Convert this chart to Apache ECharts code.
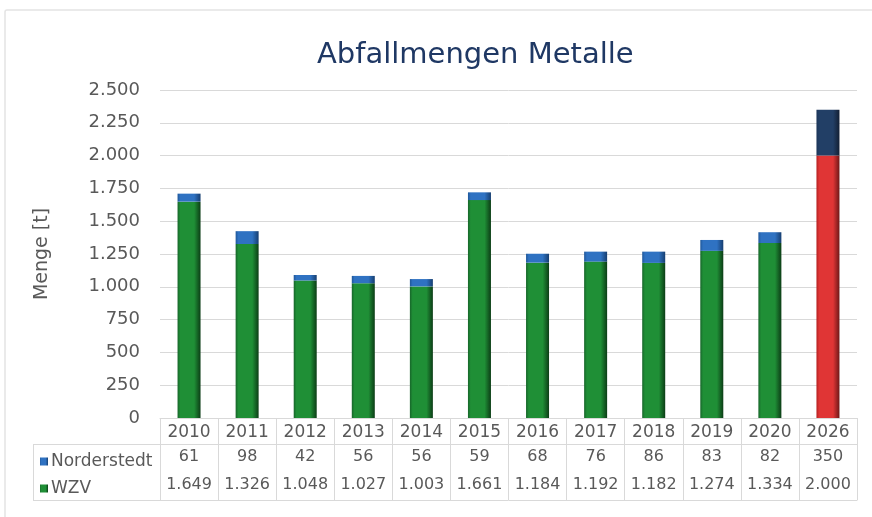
<!DOCTYPE html>
<html>
<head>
<meta charset="utf-8">
<script src="https://cdn.jsdelivr.net/npm/echarts@6/dist/echarts.min.js"></script>
<style>
html,body{margin:0;padding:0;background:#fff;}
#chart{width:872px;height:517px;}
</style>
</head>
<body>
<div id="chart"></div>
<script>
var years = ['2010','2011','2012','2013','2014','2015','2016','2017','2018','2019','2020','2026'];
var norderstedt = [61, 98, 42, 56, 56, 59, 68, 76, 86, 83, 82, 350];
var wzv = [1649, 1326, 1048, 1027, 1003, 1661, 1184, 1192, 1182, 1274, 1334, 2000];
var yTicks = [0, 250, 500, 750, 1000, 1250, 1500, 1750, 2000, 2250, 2500];

function de(v) {
  var s = String(Math.round(v));
  return s.replace(/\B(?=(\d{3})+(?!\d))/g, '.');
}
function cyl(edgeL, mid, edgeR) {
  return new echarts.graphic.LinearGradient(0, 0, 1, 0, [
    {offset: 0, color: edgeL},
    {offset: 0.12, color: mid},
    {offset: 0.72, color: mid},
    {offset: 1, color: edgeR}
  ]);
}
var green = cyl('#17652a', '#1f8f36', '#0c3d16');
var blue = cyl('#1f5799', '#2f72c2', '#163e70');
var red = cyl('#b42020', '#e03535', '#6e1818');
var navy = cyl('#1c3558', '#223f66', '#131f33');
var last = years.length - 1;

var wzvData = wzv.map(function (v, i) {
  return i === last ? {value: v, itemStyle: {color: red}} : v;
});
var nData = norderstedt.map(function (v, i) {
  return i === last ? {value: v, itemStyle: {color: navy}} : v;
});

var gridLeft = 160, gridRight = 15, gridTop = 90, gridBottom = 99;
var txt = '#595959';
var lineC = '#d9d9d9';
var font = 'DejaVu Sans';

var chart = echarts.init(document.getElementById('chart'));
chart.setOption({
  animation: false,
  textStyle: {fontFamily: font},
  title: {
    text: 'Abfallmengen Metalle',
    left: 312, top: 36,
    textStyle: {fontFamily: font, fontSize: 29, fontWeight: 'normal', color: '#1f3864'}
  },
  legend: {
    data: ['Norderstedt', 'WZV'],
    orient: 'vertical',
    left: 35, top: 448,
    icon: 'rect', itemWidth: 8, itemHeight: 8, itemGap: 10,
    textStyle: {fontFamily: font, fontSize: 17, color: txt, padding: [0, 0, 0, -2]}
  },
  grid: {left: gridLeft, right: gridRight, top: gridTop, bottom: gridBottom},
  xAxis: [
    {
      type: 'category', data: years, position: 'bottom',
      axisLine: {show: true, lineStyle: {color: lineC}},
      axisTick: {show: true, length: 82, interval: 0, lineStyle: {color: lineC}},
      axisLabel: {fontFamily: font, fontSize: 17, color: txt, margin: 6, interval: 0}
    },
    {
      type: 'category', data: years, position: 'bottom', offset: 26,
      axisLine: {show: true, lineStyle: {color: lineC}},
      axisTick: {show: false},
      axisLabel: {fontFamily: font, fontSize: 16, color: txt, margin: 5, interval: 0,
        formatter: function (v, i) { return de(norderstedt[i]); }}
    },
    {
      type: 'category', data: years, position: 'bottom', offset: 82,
      axisLine: {show: true, lineStyle: {color: lineC}},
      axisTick: {show: false},
      axisLabel: {fontFamily: font, fontSize: 16, color: txt, margin: -23, interval: 0,
        hideOverlap: false,
        formatter: function (v, i) { return de(wzv[i]); }}
    }
  ],
  yAxis: {
    type: 'value', min: 0, max: 2500, interval: 250,
    name: 'Menge [t]', nameLocation: 'middle', nameGap: 108,
    nameTextStyle: {fontFamily: font, fontSize: 19, color: txt},
    axisLine: {show: false}, axisTick: {show: false},
    axisLabel: {fontFamily: font, fontSize: 18, color: txt, margin: 20,
      formatter: function (v) { return de(v); }},
    splitLine: {lineStyle: {color: lineC}}
  },
  graphic: [
    {type: 'rect', shape: {x: 5, y: 10, width: 900, height: 520, r: 2},
     style: {fill: 'none', stroke: '#e4e4e4', lineWidth: 1.5}, silent: true, z: -1},
    {type: 'line', shape: {x1: 33, y1: 444.5, x2: 160, y2: 444.5}, style: {stroke: lineC}},
    {type: 'line', shape: {x1: 33, y1: 500.5, x2: 160, y2: 500.5}, style: {stroke: lineC}},
    {type: 'line', shape: {x1: 33.5, y1: 444, x2: 33.5, y2: 501}, style: {stroke: lineC}}
  ],
  series: [
    {name: 'WZV', type: 'bar', stack: 'total', barWidth: 23,
     itemStyle: {color: green}, data: wzvData},
    {name: 'Norderstedt', type: 'bar', stack: 'total', barWidth: 23,
     itemStyle: {color: blue}, data: nData}
  ]
});
</script>
</body>
</html>
